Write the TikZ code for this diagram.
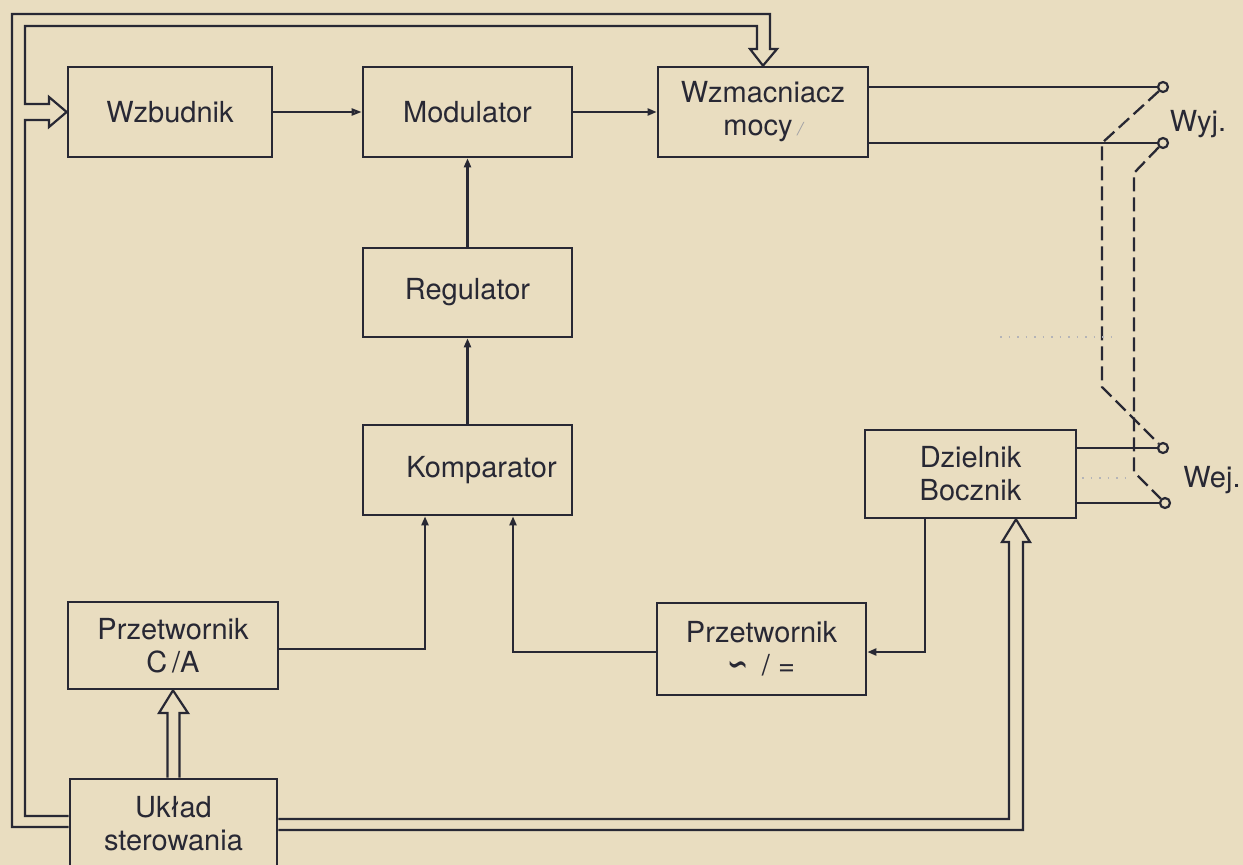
\documentclass[tikz,border=0pt]{standalone}
\usepackage{fontspec}
\setmainfont{TeX Gyre Heros}
\newfontfamily\symfont{DejaVu Sans}
\usetikzlibrary{arrows.meta}
\definecolor{paper}{RGB}{233,221,192}
\definecolor{ink}{RGB}{40,40,52}
\begin{document}
\begin{tikzpicture}[x=1pt,y=-1pt,
  box/.style={draw=ink, line width=2.7pt, text=ink, align=center, inner sep=0pt,
    font=\fontsize{29}{33}\selectfont},
  conn/.style={draw=ink, line width=2.2pt},
  tipf/.style={-{Triangle[length=9pt,width=7pt]}},
  tipo/.style={-{Triangle[open,length=10pt,width=7pt]}},
  rail/.style={draw=ink, line width=2.2pt, line join=miter},
  term/.style={circle, draw=ink, fill=paper, line width=2.2pt, minimum size=10pt, inner sep=0pt},
  dashln/.style={draw=ink, line width=2.3pt, dash pattern=on 14pt off 6pt},
  lbl/.style={text=ink, font=\fontsize{29}{33}\selectfont}]
\fill[paper] (0,0) rectangle (1243,865);
\useasboundingbox (0,0) rectangle (1243,865);

% boxes
\node[box,minimum width=204pt,minimum height=90pt] (wzb) at (170,112) {Wzbudnik};
\node[box,minimum width=209pt,minimum height=90pt] (mod) at (467.5,112) {Modulator};
\node[box,minimum width=210pt,minimum height=90pt] (wzm) at (763,112) {Wzmacniacz\\mocy\,{\color{ink!45}\fontsize{18}{18}\selectfont\itshape /}};
\node[box,minimum width=209pt,minimum height=89pt] (reg) at (467.5,292.5) {Regulator};
\node[box,minimum width=209pt,minimum height=90pt] (kom) at (467.5,470) {\kern28pt Komparator};
\node[box,minimum width=211pt,minimum height=88pt] (dz) at (970.5,474) {Dzielnik\\Bocznik};
\node[box,minimum width=210pt,minimum height=87pt] (pca) at (173,645.5) {Przetwornik\\C\,/A};
\node[box,minimum width=209pt,minimum height=92pt] (prz) at (761.5,649) {Przetwornik\\\smash{\raisebox{-3pt}{\scalebox{1.05}[1.8]{\symfont\fontsize{24}{24}\selectfont ∽}}}\ \,/ =};
\node[box,minimum width=207pt,minimum height=90pt] (ukl) at (173.5,824) {Układ\\sterowania};

% terminals
\node[term] (t1) at (1163,87) {};
\node[term] (t2) at (1163,143) {};
\node[term] (t3) at (1163,448) {};
\node[term] (t4) at (1165,503) {};
\node[lbl] (wyj) at (1198,124) {Wyj.};
\node[lbl] (wej) at (1212,480) {Wej.};

% output / input lines
\draw[conn] ([yshift=25pt]wzm.east) -- (t1.west);
\draw[conn] ([yshift=-31pt]wzm.east) -- (t2.west);
\draw[conn] ([yshift=26pt]dz.east) -- (t3.west);
\draw[conn] ([yshift=-29pt]dz.east) -- (t4.west);

% dashed switch links
\draw[dashln] (t1.south west) -- (1102,143) -- (1102,387) -- (t3.north west);
\draw[dashln] (t2.south west) -- (1134,173) -- (1134,472) -- (t4.north west);

% faint dotted marks
\draw[ink!35, line width=1.2pt, dash pattern=on 1.5pt off 7pt] (1000,337) -- (1117,337);
\draw[ink!35, line width=1.2pt, dash pattern=on 1.5pt off 7pt] (1082,478) -- (1128,478);

% signal connectors
\draw[conn, tipo] (wzb.east) -- (mod.west);
\draw[conn, tipf] (mod.east) -- (wzm.west);
\draw[conn, tipf] (reg.north) -- (mod.south);
\draw[conn, tipf] (kom.north) -- (reg.south);
\draw[conn, tipf] ([yshift=-3.5pt]pca.east) -| ([xshift=-42.5pt]kom.south);
\draw[conn, tipf] ([yshift=-3pt]prz.west) -| ([xshift=45.5pt]kom.south);
\draw[conn, tipf] ([xshift=-45.5pt]dz.south) |- ([yshift=-3pt]prz.east);

% control bus (double rails)
\draw[rail] ([yshift=-3pt]ukl.west) -- (12,827) -- (12,14) -- (770,14) -- (770,49)
  -- (777,49) -- (wzm.north) -- (750,49) -- (757,49) -- (757,26) -- (25,26)
  -- (25,104) -- (49,104) -- (49,97) -- (wzb.west) -- (49,127) -- (49,120)
  -- (25,120) -- (25,816) -- ([yshift=8pt]ukl.west);
\draw[rail] ([xshift=-6pt]ukl.north) -- (167.5,713) -- (159,713) -- (pca.south)
  -- (188,713) -- (179.5,713) -- ([xshift=6pt]ukl.north);
\draw[rail] ([yshift=5pt]ukl.east) -- (1009,819) -- (1009,542) -- (1002,542)
  -- ([xshift=45.5pt]dz.south) -- (1030,542) -- (1023,542) -- (1023,830)
  -- ([yshift=-6pt]ukl.east);
\end{tikzpicture}
\end{document}
